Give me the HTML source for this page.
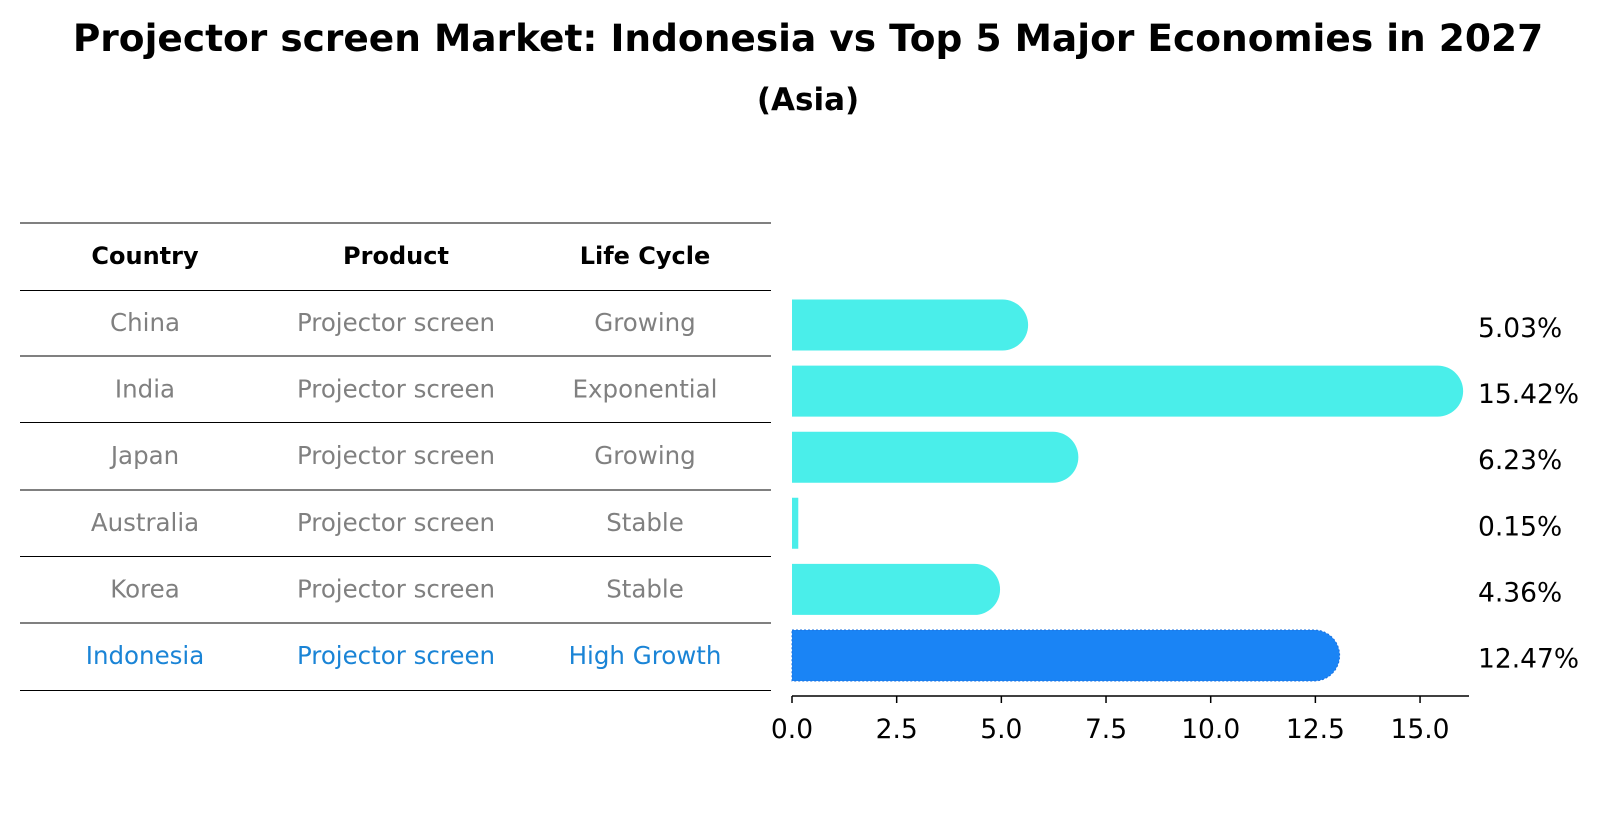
<!DOCTYPE html>
<html><head><meta charset="utf-8"><style>
body{margin:0;background:#fff;font-family:"DejaVu Sans","Liberation Sans",sans-serif;}
svg text{font-family:"DejaVu Sans","Liberation Sans",sans-serif;}
</style></head><body>
<svg id="c" width="1604" height="823" viewBox="0 0 1604 823" xmlns="http://www.w3.org/2000/svg">
<text x="808" y="51" text-anchor="middle" font-size="37.5" font-weight="bold">Projector screen Market: Indonesia vs Top 5 Major Economies in 2027</text>
<text x="808" y="110" text-anchor="middle" font-size="31" font-weight="bold">(Asia)</text>
<g id="table"></g>
<g id="bars"></g>
</svg>
<script>
const countries=["China","India","Japan","Australia","Korea","Indonesia"];
const products=["Projector screen","Projector screen","Projector screen","Projector screen","Projector screen","Projector screen"];
const lifeCycles=["Growing","Exponential","Growing","Stable","Stable","High Growth"];
const values=[5.03,15.42,6.23,0.15,4.36,12.47];
const tickVals=[0,2.5,5,7.5,10,12.5,15];
const tickLabels=["0.0","2.5","5.0","7.5","10.0","12.5","15.0"];
const NS="http://www.w3.org/2000/svg";
function mk(t,a,p,txt){const e=document.createElementNS(NS,t);for(const k in a)e.setAttribute(k,a[k]);if(txt!==undefined)e.textContent=txt;p.appendChild(e);return e;}
const x0=792,sc=41.87;
const xs=v=>x0+v*sc;
const rowY=i=>325+i*66.1;
const tb=document.getElementById('table');
const lines=[223,290.5,356,422.5,490,556.5,623,690.5];
lines.forEach((y,i)=>{const l=mk('line',{x1:20,x2:771,y1:y,y2:y,stroke:'#000','stroke-width':1},tb);

});
const cols=[145,396,645];
["Country","Product","Life Cycle"].forEach((h,j)=>{const t=mk('text',{x:cols[j],y:264,'text-anchor':'middle','font-size':24,'font-weight':'bold'},tb,h);

});
countries.forEach((c,i)=>{const col=i==5?'#1a84d6':'#808080';
[c,products[i],lifeCycles[i]].forEach((s,j)=>{const t=mk('text',{x:cols[j],y:331+i*66.6,'text-anchor':'middle','font-size':24.5,fill:col},tb,s);

});});
const g=document.getElementById('bars');
const h=51,r=25.5;
values.forEach((v,i)=>{const y=rowY(i)-h/2;const xe=xs(v);const col=i==5?'#1a84f5':'#4aeeea';
let d;
if(v<1){d=`M${x0},${y}H${xe}V${y+h}H${x0}Z`;}
else{d=`M${x0},${y}H${xe}A${r},${r} 0 0 1 ${xe},${y+h}H${x0}Z`;}
const p=mk('path',{d:d,fill:col},g);
if(i==5){p.setAttribute('stroke','#1a70e0');p.setAttribute('stroke-dasharray','2,2');p.setAttribute('stroke-width','1');}


const t=mk('text',{x:1478,y:rowY(i)+12,'font-size':26.5},g,v.toFixed(2)+'%');

});
const ax=mk('line',{x1:792,x2:1469,y1:696,y2:696,stroke:'#000','stroke-width':1.5},g);


tickVals.forEach((v,i)=>{const tk=mk('line',{x1:xs(v),x2:xs(v),y1:696,y2:703,stroke:'#000','stroke-width':1.5},g);


const t=mk('text',{x:xs(v),y:738,'text-anchor':'middle','font-size':26.5},g,tickLabels[i]);

});
</script>
</body></html>
